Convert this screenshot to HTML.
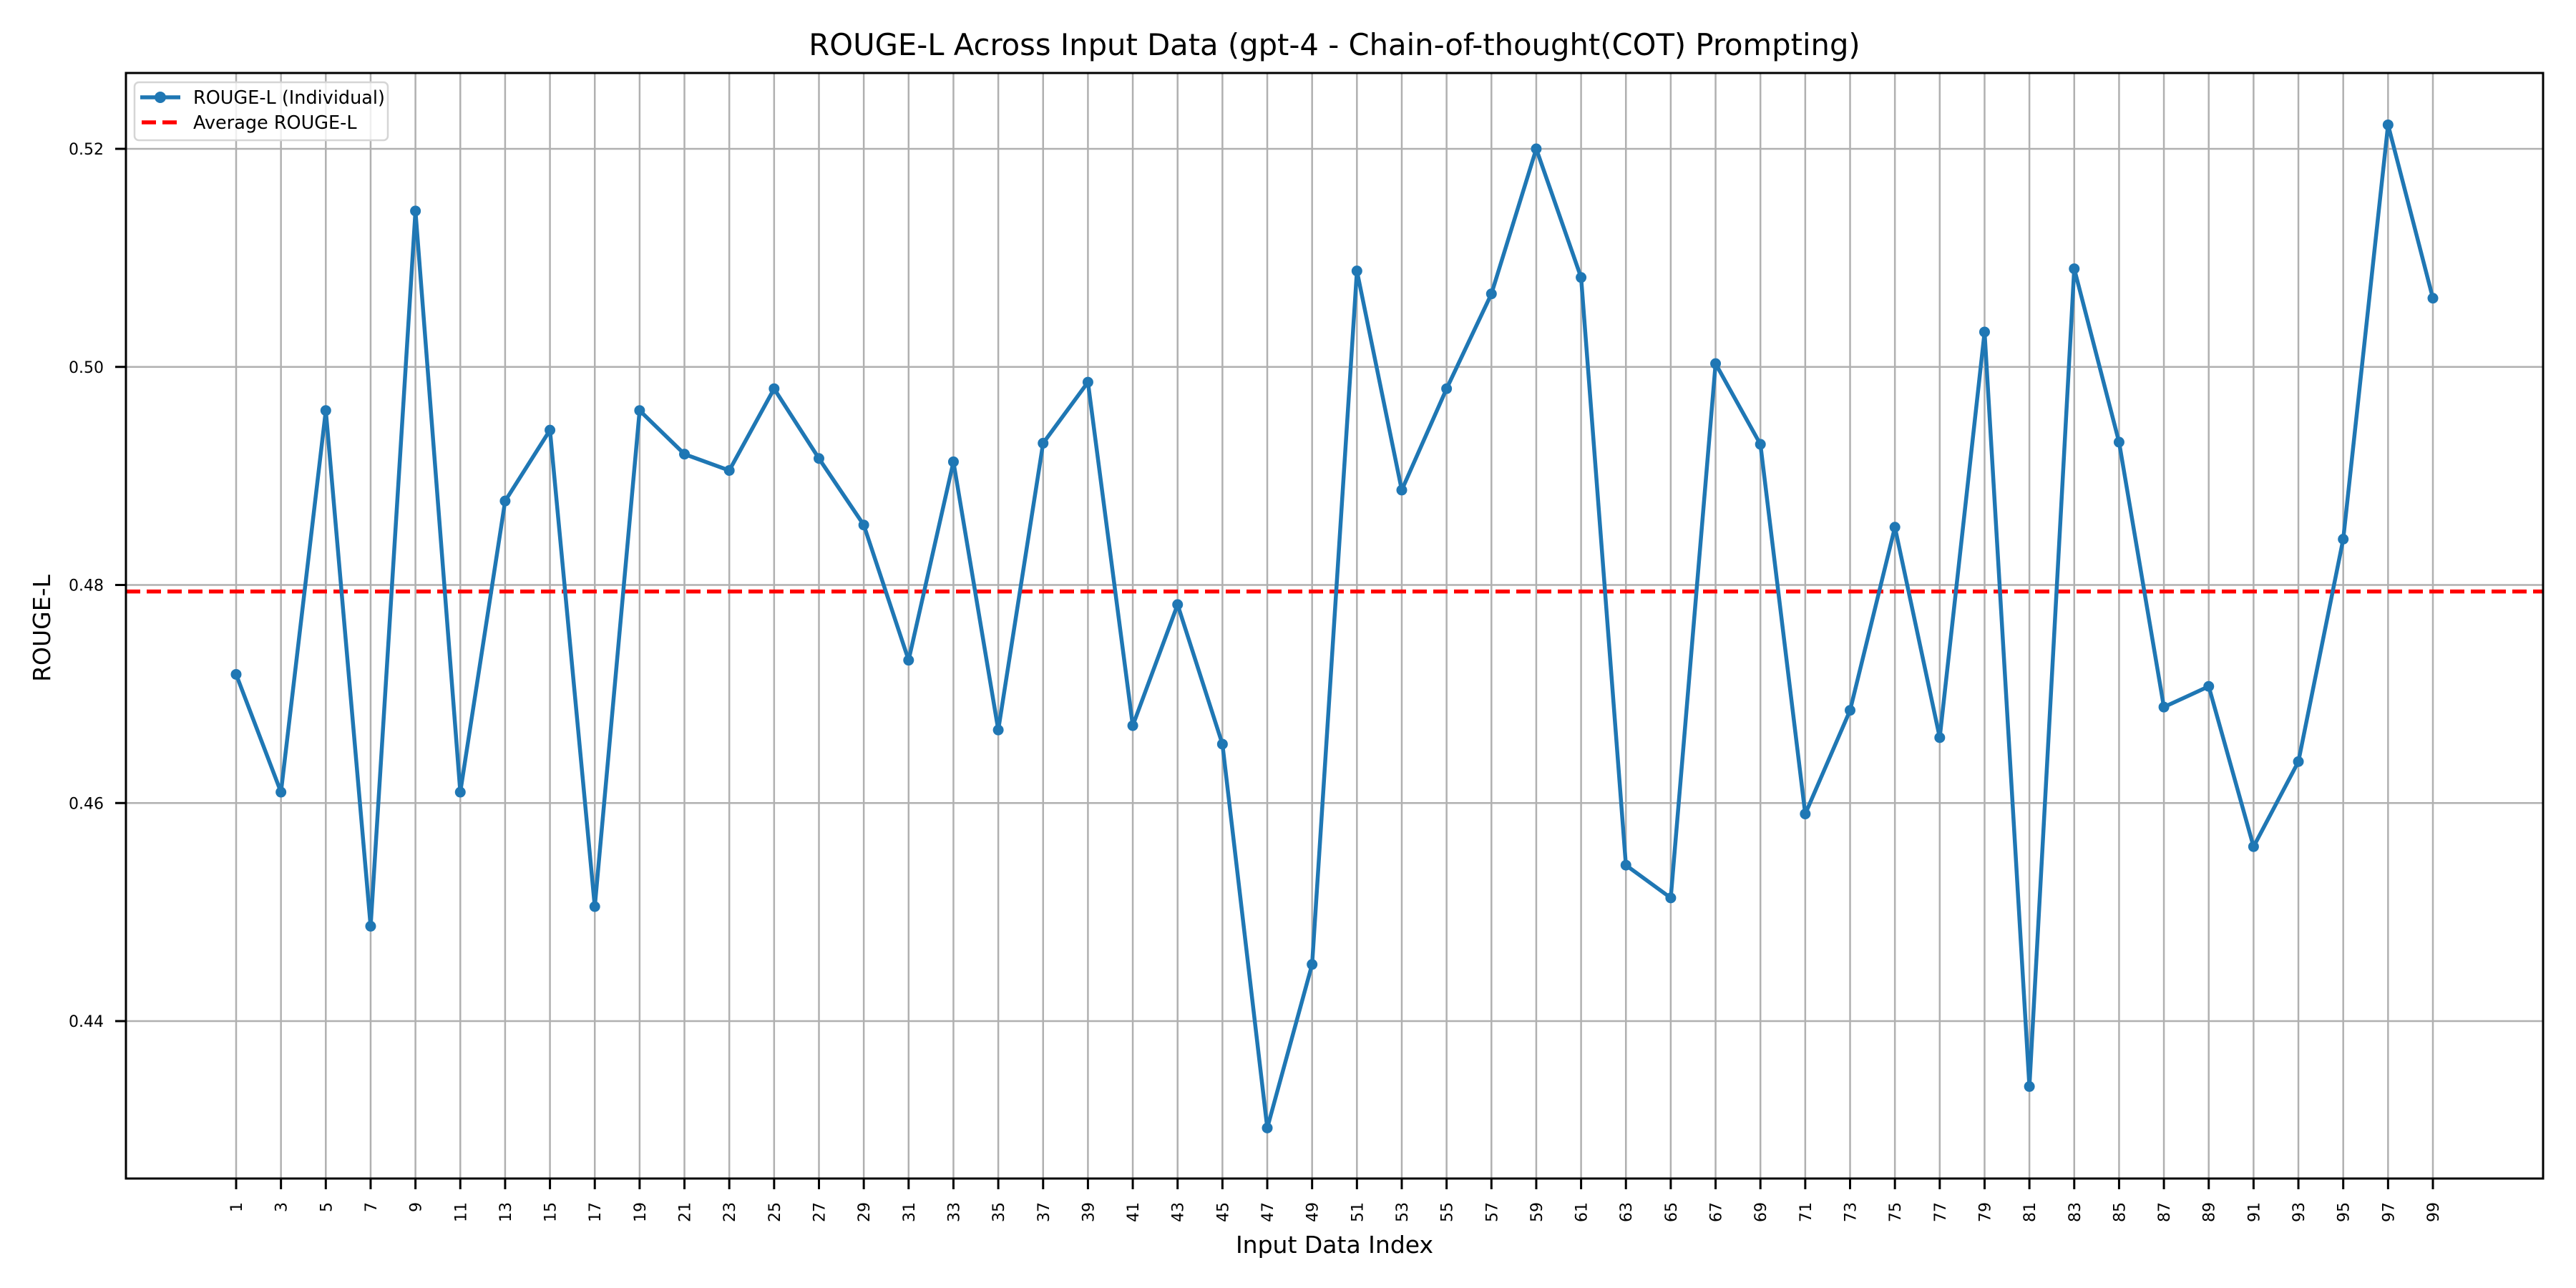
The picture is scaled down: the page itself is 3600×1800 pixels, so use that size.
<!DOCTYPE html>
<html><head><meta charset="utf-8"><style>
html,body{margin:0;padding:0;background:#fff;}
svg{display:block;font-family:"DejaVu Sans","Liberation Sans",sans-serif;}
</style></head><body>
<svg id="chart" width="3600" height="1800" viewBox="0 0 3600 1800" xmlns="http://www.w3.org/2000/svg">
<rect width="3600" height="1800" fill="#fff"/>
<g id="grid"></g>
<g id="avg"></g>
<g id="series"></g>
<rect x="176" y="102" width="3378" height="1545" fill="none" stroke="#000" stroke-width="3"/>
<g id="xticks"></g>
<g id="yticks"></g>
<text x="1865" y="77" font-size="41.7" text-anchor="middle">ROUGE-L Across Input Data (gpt-4 - Chain-of-thought(COT) Prompting)</text>
<text x="1865" y="1751" font-size="33" text-anchor="middle">Input Data Index</text>
<text transform="translate(70,878) rotate(-90)" font-size="33" text-anchor="middle">ROUGE-L</text>
<g>
<rect x="188" y="115" width="354" height="81" rx="6" fill="#fff" fill-opacity="0.8" stroke="#d5d5d5" stroke-width="2.5"/>
<g>
<line x1="196" y1="136" x2="252" y2="136" stroke="#1f77b4" stroke-width="5.5"/>
<circle cx="224" cy="136" r="8" fill="#1f77b4"/>
<text x="270" y="145" font-size="25.5">ROUGE-L (Individual)</text>
</g>
<g>
<line x1="198" y1="171" x2="252" y2="171" stroke="#ff0000" stroke-width="5.5" stroke-dasharray="20,9"/>
<text x="270" y="180" font-size="25.5">Average ROUGE-L</text>
</g>
</g>
</svg>
<script>
const indices = [1,3,5,7,9,11,13,15,17,19,21,23,25,27,29,31,33,35,37,39,41,43,45,47,49,51,53,55,57,59,61,63,65,67,69,71,73,75,77,79,81,83,85,87,89,91,93,95,97,99];
const rougeValues = [0.4718,0.4610,0.4960,0.4487,0.5143,0.4610,0.4877,0.4942,0.4505,0.4960,0.4920,0.4905,0.4980,0.4916,0.4855,0.4731,0.4913,0.4667,0.4930,0.4986,0.4671,0.4782,0.4654,0.4302,0.4452,0.5088,0.4887,0.4980,0.5067,0.5200,0.5082,0.4543,0.4513,0.5003,0.4929,0.4590,0.4685,0.4853,0.4660,0.5032,0.4340,0.5090,0.4931,0.4688,0.4707,0.4560,0.4638,0.4842,0.5222,0.5063];
const averageValue = [0.4794];
const yTickValues = [0.44,0.46,0.48,0.50,0.52];
const yTickLabels = ["0.44","0.46","0.48","0.50","0.52"];

const NS = "http://www.w3.org/2000/svg";
const L = 176, R = 3554, T = 102, B = 1647;
const xScale = v => 330 + (v - 1) * (3400 - 330) / 98;
const yScale = v => 208 + (0.52 - v) * (1427 - 208) / 0.08;
function mk(tag, attrs, parent) {
  const e = document.createElementNS(NS, tag);
  for (const k in attrs) e.setAttribute(k, attrs[k]);
  parent.appendChild(e);
  return e;
}
const grid = document.getElementById('grid');
const xt = document.getElementById('xticks');
const yt = document.getElementById('yticks');
indices.forEach(ix => {
  const x = xScale(ix);
  const g = mk('line', {x1:x, x2:x, y1:T, y2:B, stroke:'#b0b0b0', 'stroke-width':2.5}, grid);
  
  
  const t = mk('line', {x1:x, x2:x, y1:B, y2:B+15, stroke:'#000', 'stroke-width':3}, xt);
  
  
  const lb = mk('text', {transform:`translate(${x+8},1680) rotate(-90)`, 'font-size':22, 'text-anchor':'end'}, xt);
  lb.textContent = String(ix);
  
  
});
yTickValues.forEach((v, i) => {
  const y = yScale(v);
  const g = mk('line', {x1:L, x2:R, y1:y, y2:y, stroke:'#b0b0b0', 'stroke-width':2.5}, grid);
  
  
  const t = mk('line', {x1:L-15, x2:L, y1:y, y2:y, stroke:'#000', 'stroke-width':3}, yt);
  
  
  const lb = mk('text', {x:145, y:y+8, 'font-size':22, 'text-anchor':'end'}, yt);
  lb.textContent = yTickLabels[i];
  
  
});
const avgG = document.getElementById('avg');
const ay = yScale(averageValue[0]);
const al = mk('line', {x1:L, x2:R, y1:ay, y2:ay, stroke:'#ff0000', 'stroke-width':5.5, 'stroke-dasharray':'20,9'}, avgG);


const sg = document.getElementById('series');
const pts = indices.map((ix, i) => xScale(ix) + ',' + yScale(rougeValues[i])).join(' ');
const pl = mk('polyline', {points:pts, fill:'none', stroke:'#1f77b4', 'stroke-width':5.5, 'stroke-linejoin':'round'}, sg);


indices.forEach((ix, i) => {
  const c = mk('circle', {cx:xScale(ix), cy:yScale(rougeValues[i]), r:7.5, fill:'#1f77b4'}, sg);
  
  
});
</script>
</body></html>
